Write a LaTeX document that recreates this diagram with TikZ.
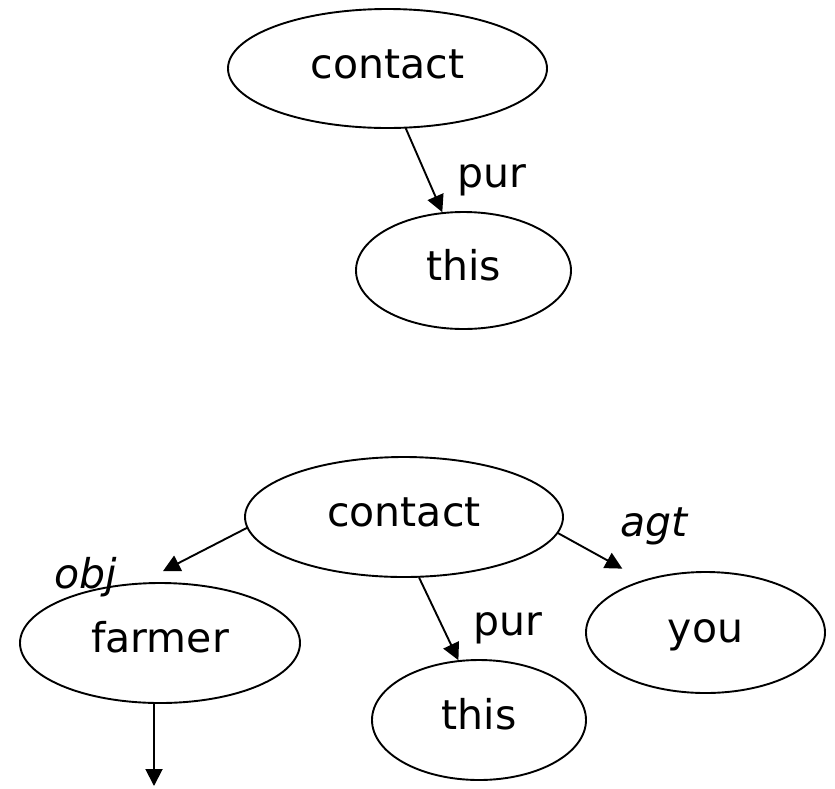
\documentclass[tikz,border=0pt]{standalone}
\usepackage{fontspec}
\setmainfont{DejaVu Sans}
\usepackage{tikz}
\usetikzlibrary{shapes.geometric}
\usetikzlibrary{arrows.meta}

\begin{document}
\begin{tikzpicture}[line cap=round,line join=round,>={Triangle[length=17pt,width=17pt]},x=1pt,y=-1pt, line width=1.9pt,
    concept/.style={ellipse, draw, inner sep=0pt, minimum height=120pt, text height=31pt, text depth=12pt, font=\fontsize{41}{44}\selectfont},
    rel/.style={font=\fontsize{41}{44}\selectfont\itshape},
    relup/.style={font=\fontsize{41}{44}\selectfont}]
                        \useasboundingbox (0,0) rectangle (835,788);

                        % first graph
                        \node[concept, minimum width=319pt, minimum height=119pt] (contact1) at (387.5,68.5) {contact};
                        \node[concept, minimum width=215pt, minimum height=117pt] (this1) at (463.5,270.5) {this};
                        \draw [->] (contact1.-73.6) -- (this1.110.7);
                        \node[relup] (pur1) at (492,180) {pur};

                        % second graph
                        \node[concept, minimum width=318pt] (contact2) at (404,517) {contact};
                        \node[concept, minimum width=280pt] (farmer) at (160,643) {farmer};
                        \node[concept, minimum width=214pt] (this2) at (479,720) {this};
                        \node[concept, minimum width=239pt, minimum height=121pt] (you) at (705.5,632.5) {you};

                        \draw [->] (contact2.184) -- ([xshift=3pt,yshift=11pt]farmer.north);
                        \node[rel] (obj) at (86,577) {obj};

                        \draw [->, shorten >=23.5pt] (contact2.-6.7) -- (you.140.7);
                        \node[rel] (agt) at (654,526) {agt};

                        \draw [->] (contact2.-76) -- (this2.109);
                        \node[relup] (pur2) at (508,628.5) {pur};

                        \coordinate (below) at (154,786);
                        \draw [->] (farmer.south -| below) -- (below);
                    \end{tikzpicture}
\end{document}
